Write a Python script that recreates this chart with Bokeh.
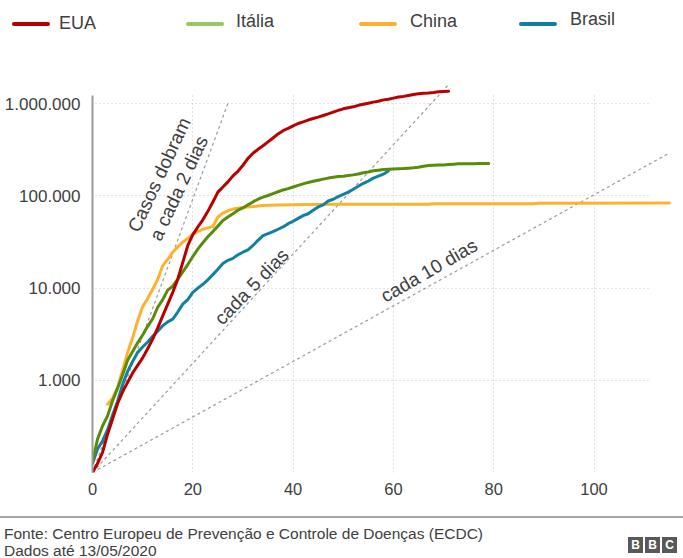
from bokeh.plotting import figure
from bokeh.models import Div, Label, FixedTicker
from bokeh.layouts import column
from bokeh.embed import file_html
from bokeh.resources import INLINE

# ---------------- data (days since 100th case, cumulative cases) ----------------
usa_days = list(range(0, 72))
usa_cases = [100, 125, 165, 260, 380, 560, 750, 950, 1200, 1450, 1750, 2200, 2800, 3700, 5000,
             6700, 9000, 12500, 19000, 29000, 38000, 46000, 55000, 68000, 86000, 110000, 125000,
             142000, 165000, 185000, 215000, 255000, 290000, 320000, 350000, 385000, 425000,
             470000, 510000, 540000, 575000, 610000, 635000, 665000, 690000, 715000, 745000,
             775000, 810000, 845000, 880000, 905000, 925000, 960000, 985000, 1010000, 1040000,
             1065000, 1100000, 1120000, 1150000, 1180000, 1200000, 1230000, 1260000, 1280000,
             1300000, 1310000, 1325000, 1345000, 1360000, 1365000]

italy_days = list(range(0, 80))
italy_cases = [130, 230, 320, 410, 600, 820, 1150, 1650, 2050, 2550, 3100, 3850, 4650, 6200, 7500,
               9500, 10500, 12500, 15000, 18000, 22000, 26500, 31000, 36000, 41000, 47000, 54000,
               59000, 64000, 70000, 74000, 80000, 86000, 92000, 97000, 101000, 106000, 111000,
               116000, 120000, 125000, 130000, 135000, 140000, 144000, 148000, 152000, 156000,
               159000, 162000, 163000, 166000, 169000, 173000, 178000, 182000, 187000, 190000,
               193000, 195000, 196000, 197000, 198000, 200000, 202000, 205000, 210000, 214000,
               215000, 216000, 217000, 219000, 221000, 223000, 223000, 223500, 223500, 224000,
               224000, 224000]

china_days = [3, 4, 5, 6, 7, 8, 9, 10, 11, 12, 13, 14, 15, 16, 17, 18, 19, 20, 21, 22, 23, 24,
              25, 26, 27, 28, 29, 30, 31, 32, 33, 34, 35, 37, 40, 43, 50, 67, 68, 88, 89, 115]
china_cases = [550, 640, 830, 1300, 2000, 2900, 4400, 6300, 7700, 9700, 12500, 17500, 20500,
               24500, 28000, 31500, 34500, 38500, 41000, 43500, 45000, 46500, 59000, 65000, 69000,
               72000, 73500, 75000, 75700, 76500, 77500, 78500, 79300, 79900, 80400, 80800, 81000,
               81200, 82000, 82300, 83400, 83800]

brazil_days = list(range(0, 60))
brazil_cases = [125, 180, 220, 290, 420, 590, 900, 1250, 1600, 2000, 2300, 2600, 3000, 3400, 3900,
                4300, 4600, 5500, 6700, 7500, 9000, 10000, 11000, 12300, 14000, 16000, 18500,
                20000, 21000, 23000, 24500, 26000, 29000, 33000, 37000, 39000, 41000, 43500,
                46000, 50000, 53000, 57000, 61000, 64000, 70000, 76000, 80000, 88000, 92000,
                98000, 104000, 110000, 118000, 127000, 137000, 145000, 156000, 164000, 172000,
                186000]

# doubling guide lines (start / end points)
ref2_days, ref2_cases = [0, 27.15], [100, 1060000]
ref5_days, ref5_cases = [0, 71.0], [100, 1610000]
ref10_days, ref10_cases = [0, 114.9], [100, 289000]

x_ticks = [0, 20, 40, 60, 80, 100]
y_ticks = [100, 1000, 10000, 100000, 1000000]
y_tick_labels = ["", "1.000", "10.000", "100.000", "1.000.000"]

series_names = ["EUA", "Itália", "China", "Brasil"]
legend_colors = ["#b80000", "#9bc464", "#fdb22f", "#1380a1"]
line_colors = ["#b80000", "#588c0a", "#fdb22f", "#1380a1"]

FONT = "Liberation Sans"
TXT = "#404040"
W = 683

# ---------------- figure ----------------
p = figure(width=W, height=460, x_range=(0, 115.65), y_range=(100, 1.785e6),
           y_axis_type="log", output_backend="svg", toolbar_location=None,
           min_border_left=92, min_border_right=11, min_border_top=40, min_border_bottom=28)
p.outline_line_color = None
p.background_fill_color = "white"
p.border_fill_color = "white"

p.xaxis.ticker = FixedTicker(ticks=x_ticks)
p.yaxis.ticker = FixedTicker(ticks=y_ticks)
p.yaxis.major_label_overrides = {t: l for t, l in zip(y_ticks, y_tick_labels)}
for ax in (p.xaxis, p.yaxis):
    ax.major_tick_line_color = None
    ax.minor_tick_line_color = None
    ax.major_label_text_font = FONT
    ax.major_label_text_color = TXT
p.xaxis.major_label_text_font_size = "16.5px"
p.yaxis.major_label_text_font_size = "17px"
p.xaxis.axis_line_color = None
p.xaxis.major_label_standoff = 4
p.yaxis.axis_line_color = "#9a9a9a"
p.yaxis.axis_line_width = 2
p.yaxis.bounds = (100, 1.23e6)
p.yaxis.major_label_standoff = 6

for g in (p.xgrid, p.ygrid):
    g.grid_line_color = "#c4c4c4"
    g.grid_line_dash = "1 3"
    g.grid_line_width = 1
if "cross_bounds" in p.xgrid[0].properties():
    p.xgrid.cross_bounds = (100, 1.23e6)
    p.ygrid.cross_bounds = (0.6, 110.9)

for d, c in ((ref2_days, ref2_cases), (ref5_days, ref5_cases), (ref10_days, ref10_cases)):
    p.line(d, c, line_color="#9a9a9a", line_width=1.2, line_dash="3 3")

p.line(china_days, china_cases, line_color=line_colors[2], line_width=3, line_join="round", line_cap="round")
p.line(brazil_days, brazil_cases, line_color=line_colors[3], line_width=3, line_join="round", line_cap="round")
p.line(italy_days, italy_cases, line_color=line_colors[1], line_width=3, line_join="round", line_cap="round")
p.line(usa_days, usa_cases, line_color=line_colors[0], line_width=3, line_join="round", line_cap="round")

def lab(x, y, t, ang):
    p.add_layout(Label(x=x, y=y, text=t, angle=ang, angle_units="deg",
                       text_align="center", text_baseline="middle",
                       text_font=FONT, text_font_size="19px", text_color=TXT))

lab(13.3, 170000, "Casos dobram", 65)
lab(17.2, 121000, "a cada 2 dias", 65)
lab(31.7, 10400, "cada 5 dias", 46)
lab(67.1, 15500, "cada 10 dias", 30)

# ---------------- legend (top) ----------------
line_left = [12, 186, 359, 519]
text_left = [59, 236, 410, 570]
text_top = [13, 11, 11, 9]
items = ""
for name, col, ll, tl, tt in zip(series_names, legend_colors, line_left, text_left, text_top):
    items += (f'<span style="position:absolute;left:{ll}px;top:22px;width:38px;height:4px;'
              f'border-radius:2px;background:{col};"></span>'
              f'<span style="position:absolute;left:{tl}px;top:{tt}px;line-height:20px;'
              f'white-space:nowrap;">{name}</span>')
top_div = Div(text=(f'<div style="position:relative;width:{W}px;height:40px;font-family:\'{FONT}\',Arial,sans-serif;'
                    f'font-size:18px;color:{TXT};">{items}</div>'),
              width=W, height=40, margin=0)

# ---------------- footer ----------------
box = ('<span style="position:absolute;left:{l}px;top:0;width:15px;height:16px;background:#595959;'
       'color:white;font-weight:bold;font-size:12px;line-height:16px;text-align:center;">{t}</span>')
bbc = "".join(box.format(l=l, t=t) for l, t in zip([0, 17, 34], "BBC"))
foot_div = Div(text=(f'<div style="position:relative;width:{W}px;height:58px;overflow:hidden;'
                     f'font-family:\'{FONT}\',Arial,sans-serif;color:{TXT};">'
                     f'<div style="position:absolute;left:0;top:16px;width:{W}px;height:2px;background:#a6a6a6;"></div>'
                     f'<div style="position:absolute;left:4px;top:25px;font-size:15.5px;line-height:17px;white-space:nowrap;">'
                     f'Fonte: Centro Europeu de Prevenção e Controle de Doenças (ECDC)<br>Dados até 13/05/2020</div>'
                     f'<div style="position:absolute;left:628px;top:37px;">{bbc}</div>'
                     f'</div>'),
               width=W, height=58, margin=0)

layout = column(top_div, p, foot_div, spacing=0)
open("out.html", "w").write(file_html(layout, INLINE))
